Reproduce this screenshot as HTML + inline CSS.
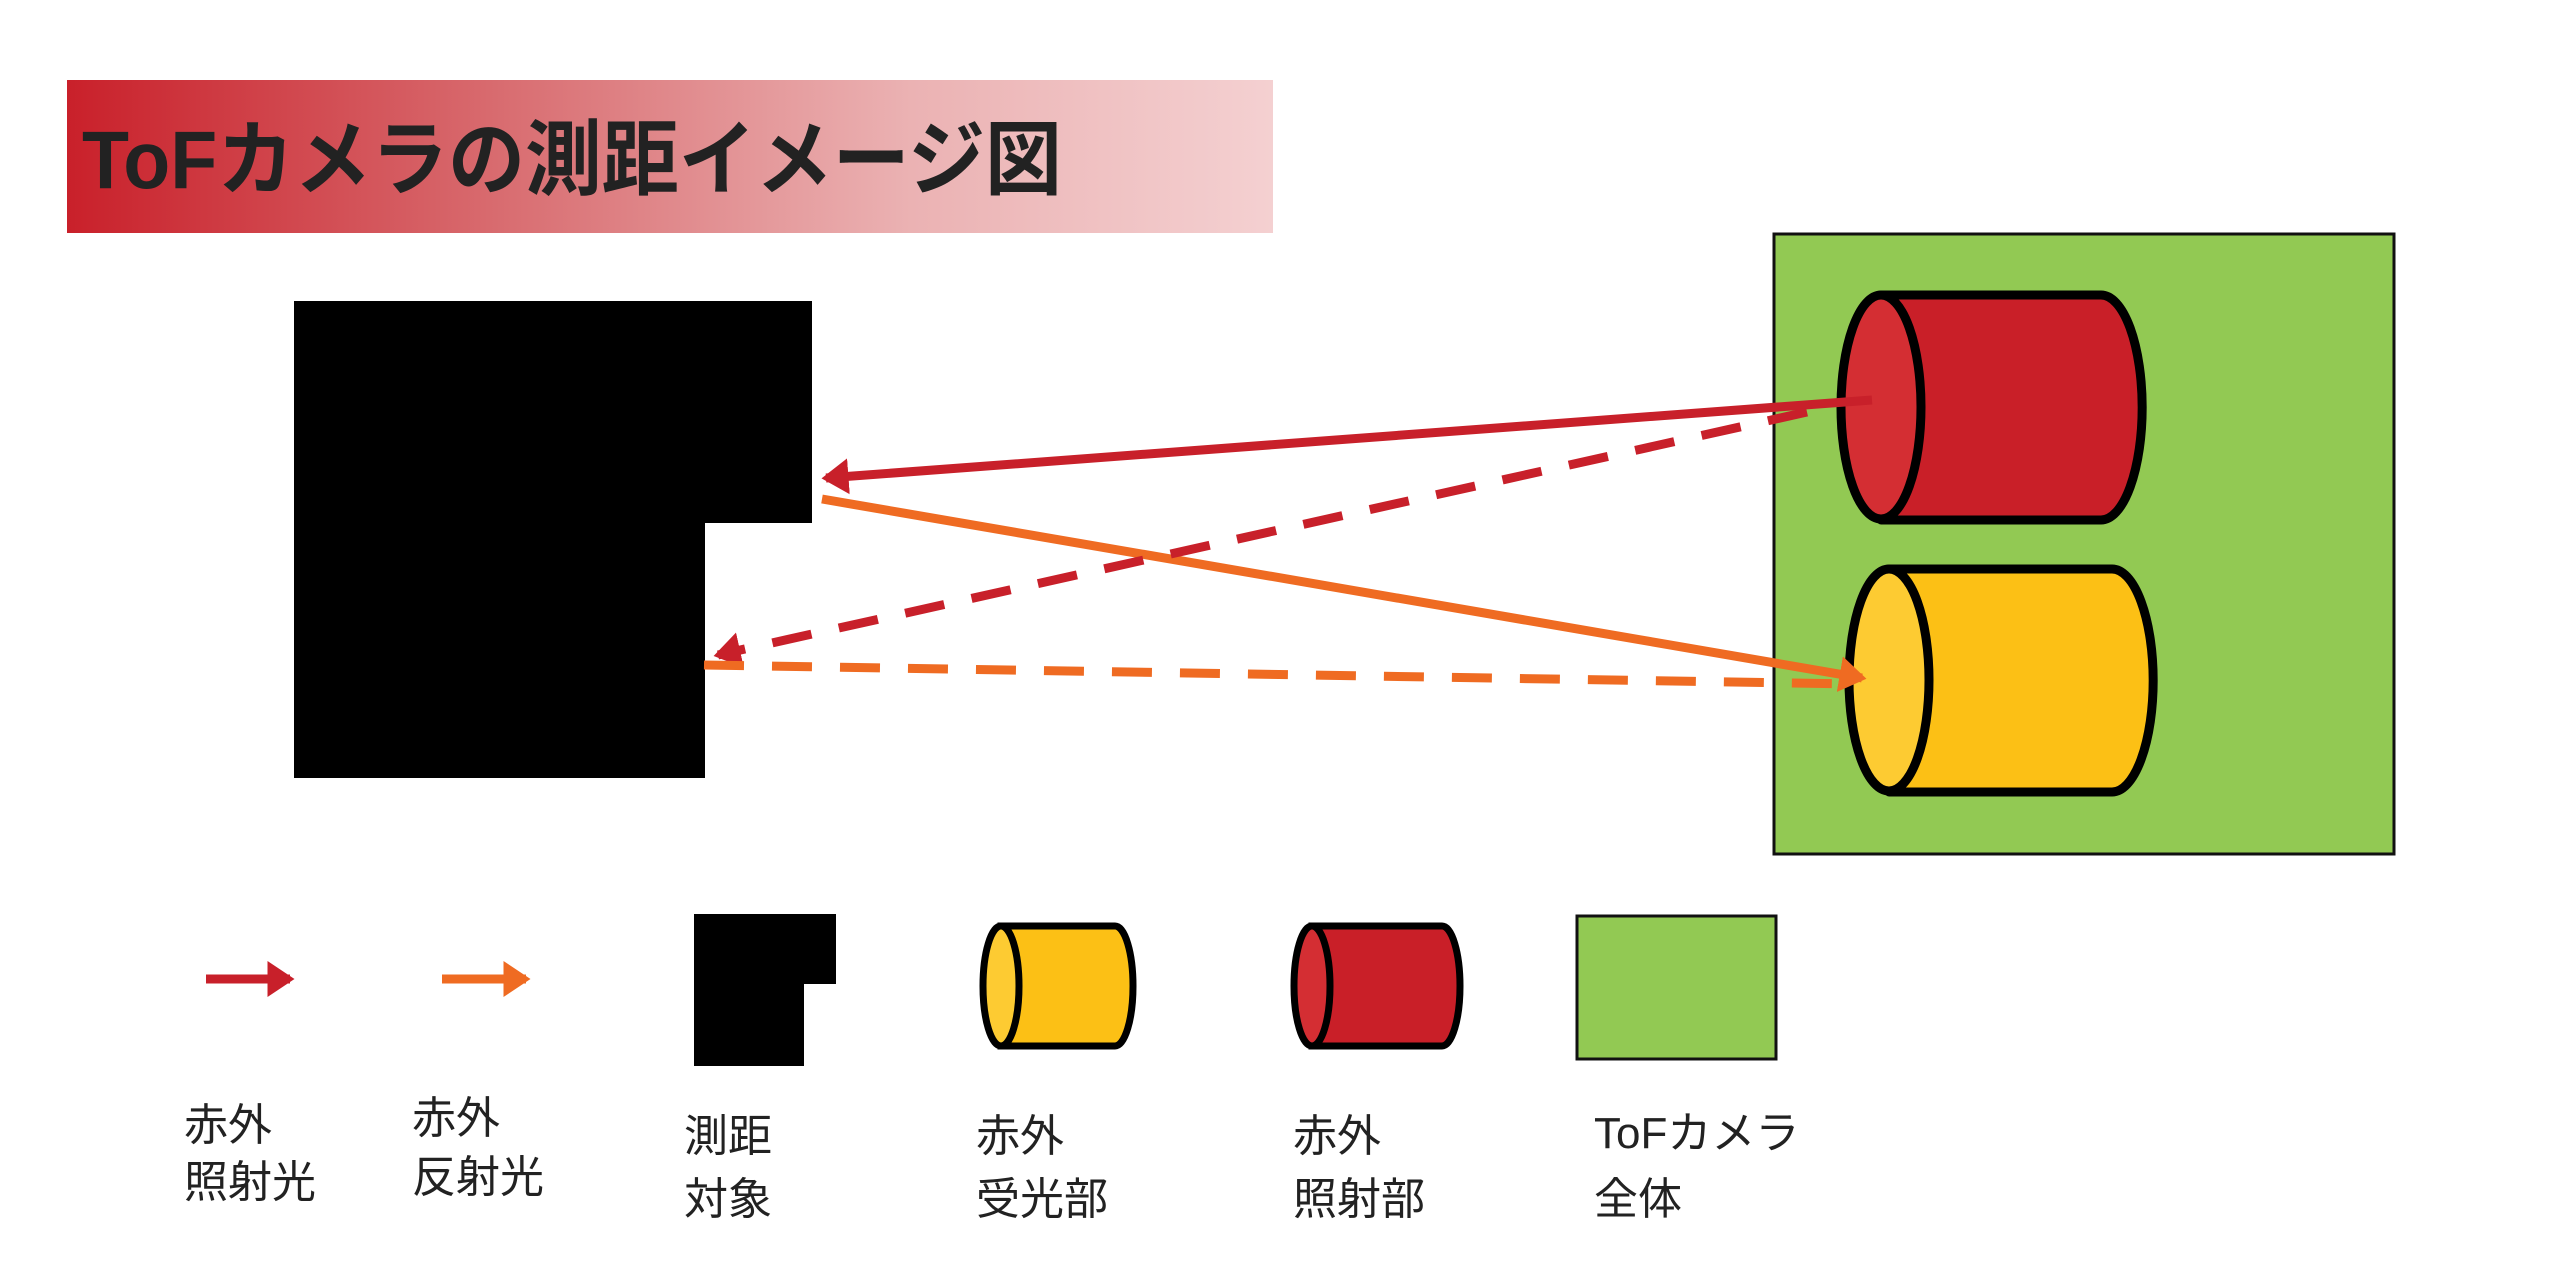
<!DOCTYPE html>
<html><head><meta charset="utf-8"><style>
html,body{margin:0;padding:0;background:#fff;}
svg{display:block}
.t{font-family:"Liberation Sans","Noto Sans CJK JP",sans-serif;font-size:44px;fill:#222;}
</style></head><body>
<svg width="2560" height="1271" viewBox="0 0 2560 1271" xmlns="http://www.w3.org/2000/svg">
<defs>
<linearGradient id="g" x1="0" x2="1" y1="0" y2="0">
<stop offset="0" stop-color="#c9202a"/>
<stop offset="0.35" stop-color="#d86a6e"/>
<stop offset="0.7" stop-color="#ebb2b3"/>
<stop offset="1" stop-color="#f4d0d1"/>
</linearGradient>
<marker id="mr" markerWidth="4" markerHeight="4" refX="2.5" refY="2" orient="auto" markerUnits="strokeWidth"><path d="M0,0 L3,2 L0,4 Z" fill="#c8202a"/></marker>
<marker id="mo" markerWidth="4" markerHeight="4" refX="2.5" refY="2" orient="auto" markerUnits="strokeWidth"><path d="M0,0 L3,2 L0,4 Z" fill="#ef6b22"/></marker>
</defs>
<rect x="67" y="80" width="1206" height="153" fill="url(#g)"/>
<text x="82" y="188" font-family="Liberation Sans,'Noto Sans CJK JP',sans-serif" font-weight="bold" font-size="82" fill="#222" textLength="980" lengthAdjust="spacingAndGlyphs">ToFカメラの測距イメージ図</text>

<path d="M294,301 H812 V523 H705 V778 H294 Z" fill="#000"/>

<rect x="1774" y="234" width="620" height="620" fill="#92c953" stroke="#111" stroke-width="3"/>
<path d="M1881,295 H2101 A41,112 0 0 1 2101,520 H1881 Z" fill="#c91f28" stroke="#000" stroke-width="9" stroke-linejoin="round"/>
<ellipse cx="1881" cy="407" rx="40" ry="112" fill="#d42e33" stroke="#000" stroke-width="9"/>
<path d="M1889,569 H2112 A41,111 0 0 1 2112,792 H1889 Z" fill="#fcc015" stroke="#000" stroke-width="9" stroke-linejoin="round"/>
<ellipse cx="1889" cy="680" rx="40" ry="111" fill="#fdcb32" stroke="#000" stroke-width="9"/>

<line x1="1872" y1="400" x2="826" y2="478" stroke="#c8202a" stroke-width="9" marker-end="url(#mr)"/>
<line x1="822" y1="499" x2="1862" y2="678" stroke="#ef6b22" stroke-width="9" marker-end="url(#mo)"/>
<line x1="1807" y1="412" x2="718" y2="655" stroke="#c8202a" stroke-width="9" stroke-dasharray="40,28" marker-end="url(#mr)"/>
<line x1="704" y1="665" x2="1852" y2="684" stroke="#ef6b22" stroke-width="9" stroke-dasharray="40,28"/>

<line x1="206" y1="979" x2="290" y2="979" stroke="#c8202a" stroke-width="9" marker-end="url(#mr)"/>
<line x1="442" y1="979" x2="526" y2="979" stroke="#ef6b22" stroke-width="9" marker-end="url(#mo)"/>
<path d="M694,914 H836 V984 H804 V1066 H694 Z" fill="#000"/>
<path d="M1001,926 H1115 A18,60 0 0 1 1115,1046 H1001 Z" fill="#fcc015" stroke="#000" stroke-width="7"/>
<ellipse cx="1001" cy="986" rx="18" ry="60" fill="#fdcb32" stroke="#000" stroke-width="7"/>
<path d="M1312,926 H1442 A18,60 0 0 1 1442,1046 H1312 Z" fill="#c91f28" stroke="#000" stroke-width="7"/>
<ellipse cx="1312" cy="986" rx="18" ry="60" fill="#d42e33" stroke="#000" stroke-width="7"/>
<rect x="1577" y="916" width="199" height="143" fill="#92c953" stroke="#111" stroke-width="3"/>

<text class="t" x="184" y="1140">赤外</text>
<text class="t" x="184" y="1197">照射光</text>
<text class="t" x="412" y="1133">赤外</text>
<text class="t" x="412" y="1192">反射光</text>
<text class="t" x="684" y="1151">測距</text>
<text class="t" x="684" y="1214">対象</text>
<text class="t" x="976" y="1151">赤外</text>
<text class="t" x="976" y="1214">受光部</text>
<text class="t" x="1293" y="1151">赤外</text>
<text class="t" x="1293" y="1214">照射部</text>
<text class="t" x="1594" y="1148">ToFカメラ</text>
<text class="t" x="1594" y="1214">全体</text>
</svg>
</body></html>
